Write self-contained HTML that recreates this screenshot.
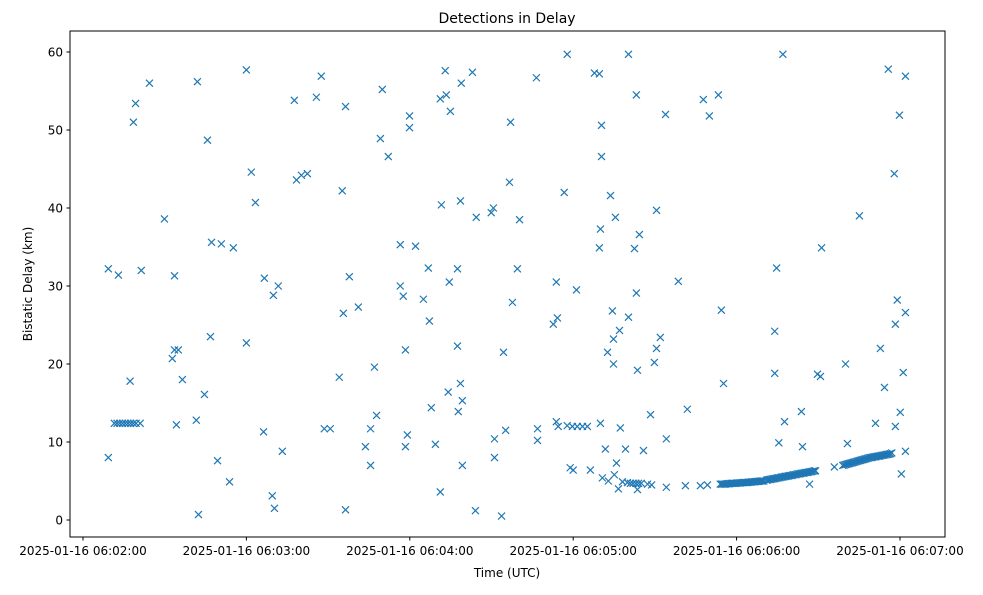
<!DOCTYPE html>
<html><head><meta charset="utf-8"><style>
body{margin:0;background:#fff;}
svg text{font-family:"DejaVu Sans","Liberation Sans",sans-serif;fill:#000;}
</style></head><body>
<svg id="chart" width="983" height="590" xmlns="http://www.w3.org/2000/svg">
<rect width="983" height="590" fill="#fff"/>
<g id="marks"></g>
<rect x="70" y="31" width="875" height="506" fill="none" stroke="#000" stroke-width="1"/>
<g id="xticks"></g>
<g id="yticks"></g>
<text x="507" y="23" font-size="14" text-anchor="middle">Detections in Delay</text>
<text x="507" y="577" font-size="12" text-anchor="middle">Time (UTC)</text>
<text x="32" y="284" font-size="12" text-anchor="middle" transform="rotate(-90 32 284)">Bistatic Delay (km)</text>
</svg>
<script>
const xTickSecs=[0,60,120,180,240,300];
const xTickLabels=["2025-01-16 06:02:00","2025-01-16 06:03:00","2025-01-16 06:04:00","2025-01-16 06:05:00","2025-01-16 06:06:00","2025-01-16 06:07:00"];
const yTickVals=[0,10,20,30,40,50,60];
const yTickLabels=["0","10","20","30","40","50","60"];
const times=[9.3,9.3,13.0,11.5,12.5,13.5,14.5,15.5,16.5,17.5,18.5,19.5,21,17.3,18.5,19.3,21.4,24.4,29.9,32.8,33.6,33.6,35,34.3,36.5,42,41.6,42.4,44.6,45.7,46.8,47.2,49.4,50.8,53.8,55.2,60,60,61.8,63.3,66.3,66.6,69.5,69.9,70.3,71.7,73.2,77.6,78.4,80.2,82.4,85.7,87.5,88.6,90.8,94.1,95.2,95.6,96.4,96.4,97.8,101.1,103.7,105.6,105.6,107,107.8,109.2,109.9,112.1,116.5,116.5,117.6,118.4,118.4,119.1,119.9,119.9,122.1,125,126.8,127.2,127.9,129.4,131.6,131.2,131.2,133,133.4,134.1,134.5,134.9,137.5,137.5,137.8,138.6,138.9,138.6,139.3,139.3,143,144.1,144.4,149.9,150.7,151.1,151.1,153.7,154.4,155.2,156.6,157,157.7,159.5,160.3,166.5,166.9,166.9,172.7,173.8,174.2,173.8,174.5,176.7,177.8,177.8,178.9,179.7,180,181.2,181.5,183.4,185.2,186.3,187.8,189.6,189.6,190,190.4,190.4,190,190.7,191.8,192.6,192.9,193.7,194.4,194.8,194.8,195.5,195.1,195.9,196.6,197,197.3,198.1,199.2,199.9,200.3,200.3,201,202,203,204,205,202.5,203.2,203.2,203.6,203.6,204.3,205.8,207.3,208.4,208.8,209.8,210.6,210.6,212,213.9,214.2,214.2,218.6,221.9,221.2,226.7,227.8,229.3,230,233.3,234.4,235.2,
234,234.5,235,235.5,236,236.5,237,237.5,238,238.5,239,239.5,240,240.5,241,241.5,242,242.5,243,243.5,244,244.5,245,245.5,246,246.5,247,247.5,248,248.5,249,249.5,250,
254,254,254.7,255.5,257,257.6,
251,251.5,252,252.5,253,253.5,254,254.5,255,255.5,256,256.5,257,257.5,258,258.5,259,259.5,260,260.5,261,261.5,262,262.5,263,263.5,264,264.5,265,265.5,266,266.5,267,267.5,268,268.5,269,
263.8,264.2,266.8,269.7,270.8,271.2,275.9,280,280.7,285.1,
279,279.5,280,280.5,281,281.5,282,282.5,283,283.5,284,284.5,285,285.5,286,286.5,287,287.5,288,288.5,289,289.5,290,290.5,291,291.5,292,292.5,293,293.5,294,294.5,295,295.5,296,296.5,297,
291,292.8,294.3,295.7,297.9,298.3,298.3,299,299.8,300.1,300.5,301.2,302,302,302];
const delays=[32.2,8.0,31.4,12.4,12.4,12.4,12.4,12.4,12.4,12.4,12.4,12.4,12.4,17.8,51.0,53.4,32.0,56.0,38.6,20.7,31.3,21.8,21.8,12.2,18.0,56.2,12.8,0.7,16.1,48.7,23.5,35.6,7.6,35.4,4.9,34.9,57.7,22.7,44.6,40.7,11.3,31.0,3.1,28.8,1.5,30.0,8.8,53.8,43.6,44.2,44.4,54.2,56.9,11.7,11.7,18.3,42.2,26.5,53.0,1.3,31.2,27.3,9.4,11.7,7.0,19.6,13.4,48.9,55.2,46.6,35.3,30.0,28.7,21.8,9.4,10.9,51.8,50.3,35.1,28.3,32.3,25.5,14.4,9.7,40.4,3.6,54.0,57.6,54.5,16.4,30.5,52.4,22.3,32.2,13.9,40.9,56.0,17.5,15.3,7.0,57.4,1.2,38.8,39.4,40.0,8.0,10.4,0.5,21.5,11.5,43.3,51.0,27.9,32.2,38.5,56.7,10.2,11.7,25.1,30.5,25.9,12.6,12.0,42.0,59.7,12.1,6.7,12.0,6.4,29.5,12.0,12.0,12.0,6.4,57.3,57.2,34.9,37.3,50.6,46.6,12.4,5.4,9.1,21.5,5.0,41.6,26.8,23.2,20.0,38.8,5.8,7.3,4.0,24.3,11.8,4.9,9.1,4.8,26.0,59.7,4.7,4.7,4.7,4.7,4.7,34.8,54.5,29.1,19.2,3.9,36.6,8.9,4.6,13.5,4.5,20.2,22.0,39.7,23.4,52.0,4.2,10.4,30.6,14.2,4.4,4.4,53.9,4.5,51.8,54.5,26.9,17.5,
4.6,4.6,4.6,4.6,4.6,4.65,4.65,4.65,4.7,4.7,4.7,4.7,4.72,4.75,4.75,4.75,4.78,4.8,4.8,4.8,4.82,4.85,4.85,4.88,4.9,4.9,4.92,4.95,4.95,4.97,5.0,5.0,5.0,
24.2,18.8,32.3,9.9,59.7,12.6,
5.1,5.15,5.2,5.2,5.25,5.3,5.3,5.35,5.4,5.4,5.45,5.5,5.5,5.55,5.6,5.6,5.65,5.7,5.7,5.75,5.8,5.8,5.85,5.9,5.9,5.95,6.0,6.0,6.05,6.1,6.1,6.15,6.2,6.2,6.25,6.3,6.3,
13.9,9.4,4.6,18.7,18.4,34.9,6.8,20.0,9.8,39.0,
7.0,7.05,7.1,7.15,7.2,7.25,7.3,7.35,7.4,7.45,7.5,7.55,7.6,7.65,7.7,7.75,7.8,7.85,7.9,7.95,8.0,8.0,8.05,8.1,8.1,8.15,8.2,8.2,8.25,8.3,8.3,8.35,8.4,8.4,8.45,8.5,8.6,
12.4,22.0,17.0,57.8,44.4,25.1,12.0,28.2,51.9,13.8,5.9,18.9,56.9,26.6,8.8];
const NS="http://www.w3.org/2000/svg";
function xScale(s){return 83+s*2.7233;}
function yScale(v){return 520-v*7.8;}
function mk(tag,attrs){const e=document.createElementNS(NS,tag);for(const k in attrs)e.setAttribute(k,attrs[k]);return e;}
const marks=document.getElementById('marks');
const n=Math.min(times.length,delays.length);
for(let i=0;i<n;i++){
  const x=xScale(times[i]),y=yScale(delays[i]),r=3.5;
  const p=mk('path',{d:`M${x-r},${y-r}L${x+r},${y+r}M${x-r},${y+r}L${x+r},${y-r}`,stroke:'#1f77b4','stroke-width':1.2,fill:'none'});
  
  
  marks.appendChild(p);
}
const xg=document.getElementById('xticks');
xTickSecs.forEach((s,i)=>{
  const x=xScale(s);
  const l=mk('line',{x1:x,x2:x,y1:537,y2:540.5,stroke:'#000'});
  
  
  xg.appendChild(l);
  const t=mk('text',{x:x,y:555,'font-size':12,'text-anchor':'middle'});
  t.textContent=xTickLabels[i];
  
  
  xg.appendChild(t);
});
const yg=document.getElementById('yticks');
yTickVals.forEach((v,i)=>{
  const y=yScale(v);
  const l=mk('line',{x1:66.5,x2:70,y1:y,y2:y,stroke:'#000'});
  
  
  yg.appendChild(l);
  const t=mk('text',{x:63,y:y+4.5,'font-size':12,'text-anchor':'end'});
  t.textContent=yTickLabels[i];
  
  
  yg.appendChild(t);
});
</script>
</body></html>
